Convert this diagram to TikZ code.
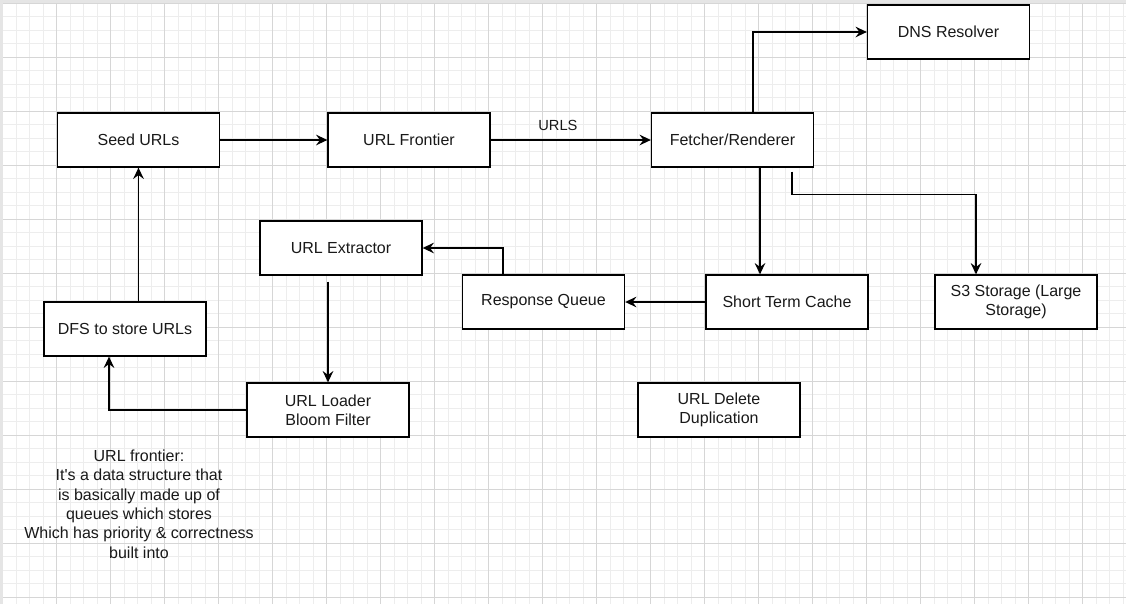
\documentclass[tikz,border=0pt]{standalone}
\usepackage{fontspec}
\setmainfont{Liberation Sans}
\usetikzlibrary{arrows.meta,calc,positioning}

\tikzset{
  box/.style={draw, line width=1pt, fill=white, minimum width=121.5pt,
    minimum height=40.5pt, inner sep=0pt, align=center, text=black!90,
    font=\fontsize{12}{14.5}\selectfont},
  flow/.style={->, line width=1pt},
  gridminor/.style={draw=black!7, line width=0.5pt},
  gridmajor/.style={draw=black!16, line width=0.5pt},
}

\begin{document}
\begin{tikzpicture}[x=0.75pt, y=-0.75pt,
    >={Stealth[length=8.5pt,width=8pt,inset=3pt]}]
  \useasboundingbox (0,0) rectangle (1126,604);
  \fill[white] (0,0) rectangle (1126,604);

  % Grid
  \foreach \i in {0,...,83} \draw[gridminor] ({2.7+13.5*\i},0) -- ++(0,604);
  \foreach \i in {0,...,44} \draw[gridminor] (0,{3.3+13.5*\i}) -- ++(1126,0);
  \foreach \i in {0,...,20} \draw[gridmajor] ({2.7+54*\i},0) -- ++(0,604);
  \foreach \i in {0,...,11} \draw[gridmajor] (0,{3.3+54*\i}) -- ++(1126,0);
  \fill[black!10] (0,0) rectangle (1126,3);
  \fill[black!10] (0,0) rectangle (3,604);

  % Nodes
  \node[box] (seed)      at (138.5,140) {Seed URLs};
  \node[box] (frontier)  at (409,140)   {URL Frontier};
  \node[box] (fetcher)   at (732.5,140) {Fetcher/Renderer};
  \node[box] (dns)       at (948.5,32)  {DNS Resolver};
  \node[box] (extractor) at (341,248)   {URL Extractor};
  \node[box] (respqueue) at (543.5,302) {Response Queue};
  \node[box] (cache)     at (787,302)   {Short Term Cache};
  \node[box] (storage)   at (1016,302)  {S3 Storage (Large\\Storage)};
  \node[box] (dfs)       at (125,329)   {DFS to store URLs};
  \node[box] (loader)    at (328,410)   {URL Loader\\Bloom Filter};
  \node[box] (dedup)     at (719,410)   {URL Delete\\Duplication};
  \node[align=center, text=black!90, font=\fontsize{12}{14.5}\selectfont] (note) at (139,504)
    {URL frontier:\\It\textquotesingle s a data structure that\\is basically made up of\\queues which stores\\Which has priority \& correctness\\built into};

  % Connectors
  \draw[flow] (seed) -- (frontier);
  \draw[flow] (frontier) -- (fetcher)
    node[pos=0.42, above=3pt, text=black!90, font=\fontsize{11}{13}\selectfont] (urls) {URLS};
  \draw[flow] ($(fetcher.north)+(20.5,0)$) |- (dns.west);
  \draw[flow] ($(fetcher.south)+(27.5,0)$) -- ($(cache.north)+(-27,0)$);
  \draw[flow] ($(fetcher.south)+(59.5,4)$) -- ++(0,23) -| ($(storage.north)+(-40,0)$);
  \draw[flow] (cache) -- (respqueue);
  \draw[flow] ($(respqueue.north)+(-40.5,0)$) |- (extractor.east);
  \draw[flow] ($(extractor.south)+(-13,6)$) -- (loader.north);
  \draw[flow] (loader.west) -| ($(dfs.south)+(-16,0)$);
  \draw[flow] (seed.south |- dfs.north) -- (seed.south);
\end{tikzpicture}
\end{document}
